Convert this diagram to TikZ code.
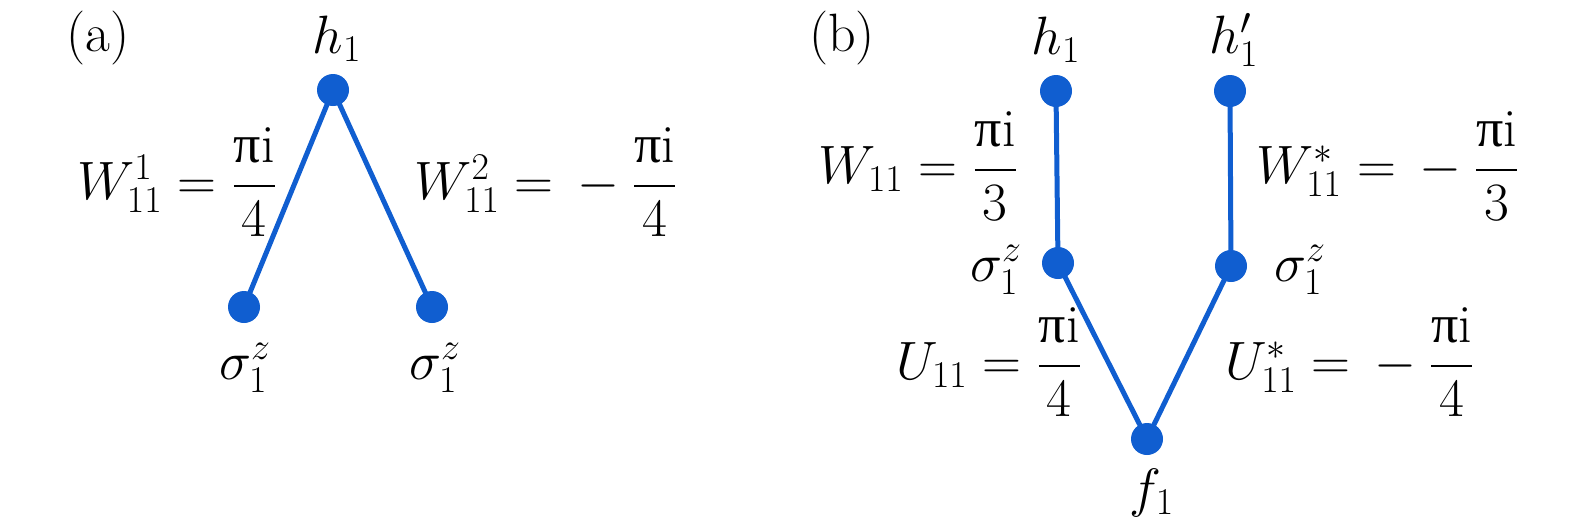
\RequirePackage{fix-cm}
\documentclass[tikz,border=0pt]{standalone}
\usepackage{amsmath}
\usepackage{fontspec}
\newfontfamily\grkfont{Liberation Serif}
\newcommand{\ppi}{\mbox{\grkfont π}}
\newcommand{\nmin}{\,-\:}
\definecolor{dotblue}{RGB}{16,94,208}
\tikzset{
  dot/.style={circle, fill=dotblue, draw=none, minimum size=16pt, inner sep=0pt},
  edge/.style={draw=dotblue, line width=2.5pt},
  lbl/.style={inner sep=0pt, font=\fontsize{27}{32}\selectfont},
}
\begin{document}
\begin{tikzpicture}[x=0.5pt, y=-0.5pt]
\useasboundingbox (0,0) rectangle (1575,531);
% panel (a)
\node[lbl] (la) at (98,38) {(a)};
\node[dot] (ah) at (333,90) {};
\node[dot] (as1) at (244,307) {};
\node[dot] (as2) at (432,307) {};
\draw[edge] (ah.center) -- (as1.center);
\draw[edge] (ah.center) -- (as2.center);
\node[lbl] (ahl) at (337,39) {$h_1$};
\node[lbl] (as1l) at (245,368) {$\sigma_1^z$};
\node[lbl] (as2l) at (435,368) {$\sigma_1^z$};
\node[lbl, anchor=base east] (aw1) at (277.5,199.5) {$W_{11}^1=\dfrac{\ppi\mathrm{i}}{4}$};
\node[lbl, anchor=base west] (aw2) at (414,199.5) {$W_{11}^2=\nmin\dfrac{\ppi\mathrm{i}}{4}$};
% panel (b)
\node[lbl] (lb) at (842,38) {(b)};
\node[dot] (bh) at (1056,91) {};
\node[dot] (bhp) at (1230,91) {};
\node[dot] (bs1) at (1058,263) {};
\node[dot] (bs2) at (1231,266) {};
\node[dot] (bf) at (1147,439) {};
\draw[edge] (bh.center) -- (bs1.center) -- (bf.center) -- (bs2.center) -- (bhp.center);
\node[lbl] (bhl) at (1056,40) {$h_1$};
\node[lbl] (bhpl) at (1234,40) {$h_1'$};
\node[lbl] (bs1l) at (996,270) {$\sigma_1^z$};
\node[lbl] (bs2l) at (1300,270) {$\sigma_1^z$};
\node[lbl] (bfl) at (1152,493) {$f_1$};
\node[lbl, anchor=base east] (bw1) at (1018.5,183.5) {$W_{11}=\dfrac{\ppi\mathrm{i}}{3}$};
\node[lbl, anchor=base west] (bw2) at (1256,183.5) {$W_{11}^*=\nmin\dfrac{\ppi\mathrm{i}}{3}$};
\node[lbl, anchor=base east] (bu1) at (1082.5,379.5) {$U_{11}=\dfrac{\ppi\mathrm{i}}{4}$};
\node[lbl, anchor=base west] (bu2) at (1225,379.5) {$U_{11}^*=\nmin\dfrac{\ppi\mathrm{i}}{4}$};
\end{tikzpicture}
\end{document}
